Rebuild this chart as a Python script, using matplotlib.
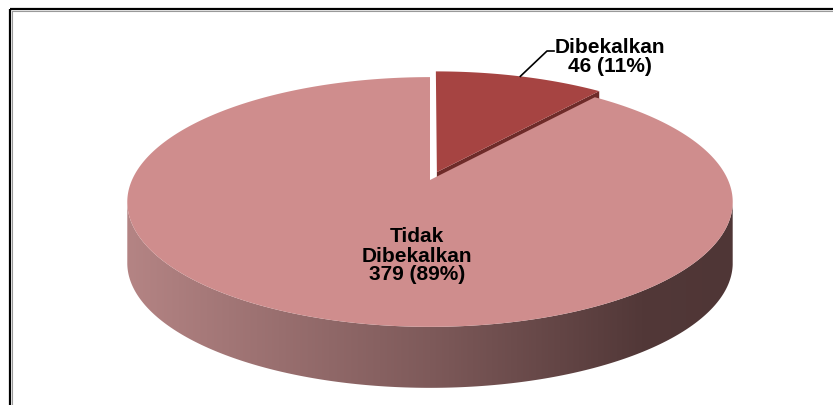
import numpy as np
import matplotlib.pyplot as plt
from matplotlib.patches import Polygon, Rectangle
from matplotlib.colors import LinearSegmentedColormap

plt.rcParams['font.family'] = ['Liberation Sans', 'DejaVu Sans']

categories = ['Dibekalkan', 'Tidak\nDibekalkan']
counts = [46, 379]
percents = ['11%', '89%']
top_colors = ['#A64442', '#CF8D8D']
side_colors = ['#6E2B29', '#8E6262']
explode = [0.07, 0.0]

# pie geometry in figure pixels (3d look with a bit of perspective)
cx, cy = 430, 180
rx, ry, persp = 298, 121, 0.176
depth = 61

side_cmap = LinearSegmentedColormap.from_list(
    'side', [(0, '#B48484'), (0.5, '#7E5A5A'), (0.85, '#523838'), (1, '#4F3636')])


def project(u, v):
    w = 1 + persp * v
    return cx + rx * u / w, cy - ry * v / w


fig = plt.figure(figsize=(8.33, 4.05), dpi=100)
ax = fig.add_axes([0, 0, 1, 1])
ax.set_xlim(0, 833)
ax.set_ylim(405, 0)
ax.axis('off')

total = sum(counts)
start = 90.0
for i, n in enumerate(counts):
    sweep = 360.0 * n / total
    t0, t1 = start - sweep, start
    start = t0
    mid = np.radians((t0 + t1) / 2)
    ox, oy = explode[i] * np.cos(mid), explode[i] * np.sin(mid)
    t = np.radians(np.linspace(t0, t1, 400))
    ax_, ay_ = project(ox + np.cos(t), oy + np.sin(t))
    vx, vy = project(ox, oy)

    # top face
    top = np.column_stack([np.r_[vx, ax_], np.r_[vy, ay_]])
    ax.add_patch(Polygon(top, closed=True, fc=top_colors[i], ec='none', zorder=3))

    # radial face on the clockwise edge
    ex, ey = ax_[0], ay_[0]
    face = [(vx, vy), (ex, ey), (ex, ey + depth), (vx, vy + depth)]
    ax.add_patch(Polygon(face, closed=True, fc=side_colors[i], ec='none', zorder=2))

    # outer wall, front part only
    vis = np.sin(t) < -persp
    if vis.sum() > 1:
        sx, sy = ax_[vis], ay_[vis]
        wall = np.column_stack([np.r_[sx, sx[::-1]], np.r_[sy, sy[::-1] + depth]])
        wp = Polygon(wall, closed=True, fc='none', ec='none', zorder=1)
        ax.add_patch(wp)
        grad = np.linspace(0, 1, 256).reshape(1, -1)
        im = ax.imshow(grad, cmap=side_cmap, aspect='auto', zorder=1,
                       extent=(sx.min(), sx.max(), sy.max() + depth, sy.min()))
        im.set_clip_path(wp)

    # labels
    if i == 0:
        lx, ly = project(ox + np.cos(mid), oy + np.sin(mid))
        ax.plot([lx, 547, 554], [ly, 51, 51], color='black', lw=1.2, zorder=4)
        ax.text(555, 57, f'{categories[i]}\n{n} ({percents[i]})', ha='left', va='center',
                multialignment='center', fontsize=15, fontweight='bold',
                linespacing=1.0, zorder=5)
    else:
        ax.text(cx - 13, 256, f'{categories[i]}\n{n} ({percents[i]})', ha='center', va='center',
                fontsize=15, fontweight='bold', linespacing=1.0, zorder=5)

ax.set_xlim(0, 833)
ax.set_ylim(405, 0)

# chart frame, runs off the right and bottom edges
ax.add_patch(Rectangle((10.5, 8.5), 900, 500, fill=False, ec='black', lw=1.6, zorder=6))
ax.add_patch(Rectangle((12.5, 10.5), 900, 500, fill=False, ec='#9A9A9A', lw=0.8, zorder=6))

fig.savefig('out.png', dpi=100)
